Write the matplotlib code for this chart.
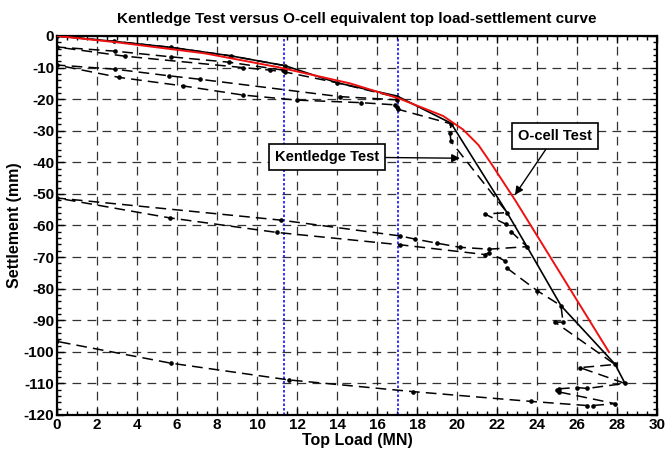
import numpy as np
import matplotlib
matplotlib.use("Agg")
import matplotlib.pyplot as plt
from matplotlib.ticker import MultipleLocator

plt.rcParams['font.family'] = ['Liberation Sans', 'DejaVu Sans']
plt.rcParams['axes.unicode_minus'] = False

# O-cell equivalent top load-settlement curve
ocell_load = [0, 3, 7.4, 11, 14.65, 17.07, 19.3, 20.3, 21.07, 21.7, 22.9, 27.6]
ocell_sett = [0, -2.0, -5.5, -9.8, -15.0, -19.7, -25.3, -29.6, -34.5, -40.3, -51.9, -100.1]

# Kentledge test envelope (solid)
env_load = [0, 2.85, 5.7, 8.7, 11.4, 14.0, 17.0, 19.7, 22.5, 23.5, 25.2, 27.9, 28.4]
env_sett = [0, -1.7, -3.6, -6.3, -9.4, -14.8, -19.0, -27.6, -55.9, -66.7, -85.4, -103.9, -110.0]

# Kentledge test readings (dashed, load/unload cycles)
kent_load = [0, 2.85, 5.7, 8.7, 11.4, 11.4, 11.3,
             8.6, 5.7, 2.9, 0,
             3.4, 9.3, 10.65, 11.4,
             14.0, 17.0, 17.0,
             14.15, 7.15, 5.6, 2.9, 0,
             3.1, 6.3, 9.3, 12.0, 15.2, 16.9, 17.0, 17.05,
             19.7, 19.65, 19.7, 22.5, 21.4, 22.45, 22.7, 23.5,
             21.6, 20.15, 19.0, 17.9, 17.15, 11.2, 0,
             5.65, 11.0, 17.15, 21.4, 21.6, 22.4, 22.5, 24.0, 25.2, 25.3, 24.9,
             27.9, 26.15, 28.4, 26.5, 26.0, 25.1, 25.0, 25.1,
             27.9, 26.8, 26.5, 23.7, 17.8, 11.6, 5.7, 0]
kent_sett = [0, -1.7, -3.6, -6.3, -9.4, -10.3, -10.8,
             -8.3, -6.6, -4.8, -3.5,
             -6.4, -10.0, -10.8, -11.4,
             -14.8, -19.4, -20.2,
             -19.2, -13.7, -12.6, -10.5, -9.2,
             -13.1, -15.8, -18.7, -20.3, -21.1, -21.8, -22.6, -23.2,
             -27.8, -30.8, -33.4, -55.9, -56.4, -59.6, -61.9, -66.7,
             -67.5, -66.9, -65.6, -64.3, -63.3, -58.3, -51.3,
             -57.6, -62.2, -66.1, -69.2, -68.6, -71.2, -73.5, -80.6, -85.4, -90.6, -90.6,
             -104.0, -105.0, -110.0, -111.6, -111.3, -111.7, -112.2, -112.7,
             -116.4, -117.0, -117.0, -115.7, -112.6, -108.9, -103.6, -96.7]

# blue reference lines
ref_loads = [11.35, 17.05]

fig = plt.figure(figsize=(6.69, 4.57), dpi=100)
ax = fig.add_axes([57/669, 42/457, 600/669, 379/457])

for xr in ref_loads:
    ax.axvline(xr, color='#1010ff', lw=1.2, ls=(0, (1.5, 1.2)), zorder=2)

ax.plot(env_load, env_sett, color='black', lw=1.2, zorder=3)
ax.plot(kent_load, kent_sett, color='black', lw=1.1, ls=(0, (7, 4)),
        marker='o', ms=2.3, zorder=3)
ax.plot(ocell_load, ocell_sett, color='#ee1111', lw=1.4, zorder=4)

ax.set_xlim(0, 30)
ax.set_ylim(-120, 0)
ax.xaxis.set_major_locator(MultipleLocator(2))
ax.xaxis.set_minor_locator(MultipleLocator(0.5))
ax.yaxis.set_major_locator(MultipleLocator(10))
ax.yaxis.set_minor_locator(MultipleLocator(2))
ax.tick_params(which='both', direction='in', top=True, right=True, width=1.0)
ax.tick_params(which='major', length=5, labelsize=11, pad=2)
ax.tick_params(which='minor', length=3)
for lab in ax.get_xticklabels() + ax.get_yticklabels():
    lab.set_fontweight('bold')
for s in ax.spines.values():
    s.set_linewidth(1.6)

ax.grid(True, which='major', color='black', lw=0.9, ls=(0, (7, 5)), alpha=0.8)
ax.set_axisbelow(True)

ax.set_xlabel('Top Load (MN)', fontsize=11.5, fontweight='bold', labelpad=1)
ax.set_ylabel('Settlement (mm)', fontsize=11.5, fontweight='bold', labelpad=1)
ax.set_title('Kentledge Test versus O-cell equivalent top load-settlement curve',
             fontsize=11, fontweight='bold', pad=9)

box = dict(boxstyle='square,pad=0.4', fc='white', ec='black', lw=1.2)
arr = dict(arrowstyle='-|>', color='black', lw=1.0, mutation_scale=12, shrinkA=0, shrinkB=0)
ax.annotate('Kentledge Test', xy=(20.15, -38.7), xytext=(13.5, -38.3),
            fontsize=10.5, fontweight='bold', ha='center', va='center',
            bbox=box, arrowprops=arr, zorder=6)
ax.annotate('O-cell Test', xy=(22.9, -50.3), xytext=(24.9, -31.6),
            fontsize=10.5, fontweight='bold', ha='center', va='center',
            bbox=box, arrowprops=arr, zorder=6)

fig.savefig('out.png', dpi=100)
